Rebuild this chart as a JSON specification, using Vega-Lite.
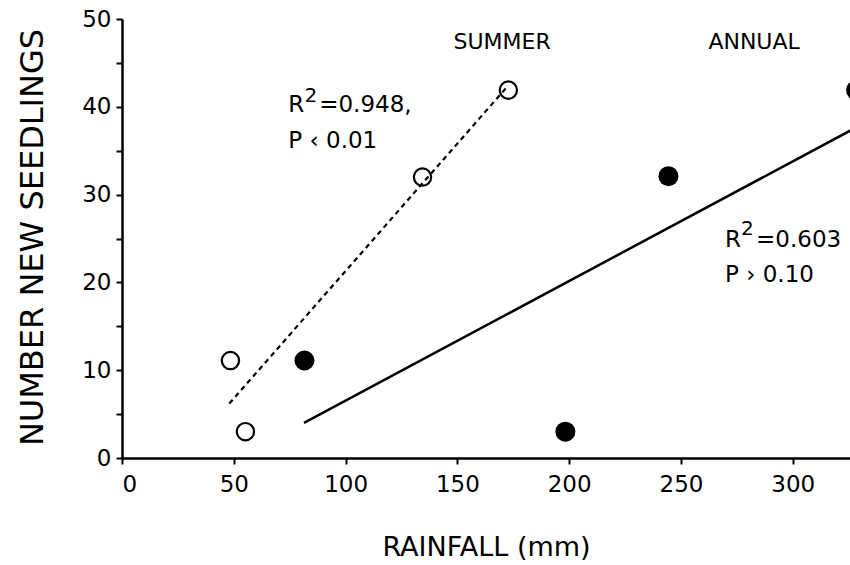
{
  "$schema": "https://vega.github.io/schema/vega-lite/v6.json",
  "width": 728,
  "height": 439,
  "autosize": {"type": "none"},
  "padding": {"left": 122, "top": 19, "right": 0, "bottom": 107},
  "background": "white",
  "config": {
    "view": {"stroke": null},
    "font": "DejaVu Sans",
    "axis": {
      "domainColor": "black",
      "domainWidth": 2.5,
      "tickColor": "black",
      "tickWidth": 2,
      "tickSize": 6,
      "labelColor": "black",
      "labelFont": "DejaVu Sans",
      "labelFontSize": 23,
      "titleFont": "DejaVu Sans",
      "titleFontWeight": "normal",
      "titleColor": "black",
      "grid": false
    }
  },
  "datasets": {
    "pts": [
      {"season": "SUMMER", "rain": 48.5, "seedlings": 11.1},
      {"season": "SUMMER", "rain": 55.2, "seedlings": 3.0},
      {"season": "SUMMER", "rain": 134.4, "seedlings": 32.0},
      {"season": "SUMMER", "rain": 172.8, "seedlings": 41.9},
      {"season": "ANNUAL", "rain": 81.6, "seedlings": 11.1},
      {"season": "ANNUAL", "rain": 198.3, "seedlings": 3.0},
      {"season": "ANNUAL", "rain": 244.4, "seedlings": 32.1},
      {"season": "ANNUAL", "rain": 328.3, "seedlings": 41.9}
    ],
    "fits": [
      {"season": "SUMMER", "rain": 48, "seedlings": 6.2},
      {"season": "SUMMER", "rain": 172, "seedlings": 42.2},
      {"season": "ANNUAL", "rain": 81.4, "seedlings": 4.0},
      {"season": "ANNUAL", "rain": 328, "seedlings": 37.6}
    ],
    "heads": [
      {"label": "SUMMER", "rain": 170, "seedlings": 46.6},
      {"label": "ANNUAL", "rain": 282.7, "seedlings": 46.6}
    ],
    "stats": [
      {"label": "R", "rain": 74.4, "seedlings": 39.4},
      {"label": "=0.948,", "rain": 88.2, "seedlings": 39.4},
      {"label": "P ‹ 0.01", "rain": 74.4, "seedlings": 35.3},
      {"label": "R", "rain": 269.7, "seedlings": 24.0},
      {"label": "=0.603", "rain": 283.6, "seedlings": 24.0},
      {"label": "P › 0.10", "rain": 269.7, "seedlings": 20.0}
    ],
    "sups": [
      {"label": "2", "rain": 81.6, "seedlings": 40.6},
      {"label": "2", "rain": 276.9, "seedlings": 25.4}
    ]
  },
  "encoding": {
    "x": {
      "field": "rain", "type": "quantitative",
      "scale": {"domain": [0, 325.6], "nice": false, "zero": false},
      "axis": {
        "title": "RAINFALL (mm)",
        "values": [0, 50, 100, 150, 200, 250, 300],
        "labelPadding": 9,
        "titleFontSize": 27,
        "titleBaseline": "alphabetic",
        "titleY": 97
      }
    },
    "y": {
      "field": "seedlings", "type": "quantitative",
      "scale": {"domain": [0, 50], "nice": false},
      "axis": {
        "title": "NUMBER NEW SEEDLINGS",
        "values": [0, 5, 10, 15, 20, 25, 30, 35, 40, 45, 50],
        "labelExpr": "datum.value % 10 === 0 ? datum.label : ''",
        "labelPadding": 5,
        "titleFontSize": 32,
        "titleBaseline": "alphabetic",
        "titleX": -80,
        "titleY": 218
      }
    }
  },
  "layer": [
    {
      "data": {"name": "fits"},
      "transform": [{"filter": "datum.season === 'SUMMER'"}],
      "mark": {"type": "line", "color": "black", "strokeWidth": 2.2, "strokeDash": [5, 4], "clip": true}
    },
    {
      "data": {"name": "fits"},
      "transform": [{"filter": "datum.season === 'ANNUAL'"}],
      "mark": {"type": "line", "color": "black", "strokeWidth": 2.5, "clip": true}
    },
    {
      "data": {"name": "pts"},
      "transform": [{"filter": "datum.season === 'SUMMER'"}],
      "mark": {"type": "point", "shape": "circle", "filled": false, "stroke": "black", "strokeWidth": 2.2, "size": 300, "opacity": 1, "clip": true}
    },
    {
      "data": {"name": "pts"},
      "transform": [{"filter": "datum.season === 'ANNUAL'"}],
      "mark": {"type": "circle", "color": "black", "size": 400, "opacity": 1, "clip": true}
    },
    {
      "data": {"name": "heads"},
      "mark": {"type": "text", "align": "center", "baseline": "alphabetic", "fontSize": 22, "font": "DejaVu Sans", "color": "black"},
      "encoding": {"text": {"field": "label"}}
    },
    {
      "data": {"name": "stats"},
      "mark": {"type": "text", "align": "left", "baseline": "alphabetic", "fontSize": 23, "font": "DejaVu Sans", "color": "black"},
      "encoding": {"text": {"field": "label"}}
    },
    {
      "data": {"name": "sups"},
      "mark": {"type": "text", "align": "left", "baseline": "alphabetic", "fontSize": 20, "font": "DejaVu Sans", "color": "black"},
      "encoding": {"text": {"field": "label"}}
    }
  ]
}
